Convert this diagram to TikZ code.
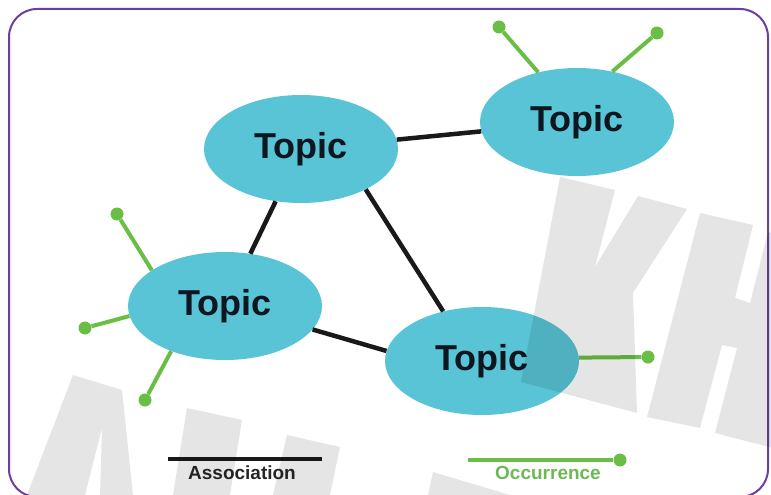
\documentclass[tikz,border=0pt]{standalone}
\usepackage{fontspec}
\setmainfont{Liberation Sans}
\usepackage{xcolor}
\usetikzlibrary{shapes.geometric,arrows.meta}

\definecolor{topicblue}{RGB}{88,196,214}
\definecolor{topictext}{RGB}{14,22,32}
\definecolor{occgreen}{RGB}{106,189,69}
\definecolor{occtext}{RGB}{110,184,84}
\definecolor{framepurple}{RGB}{107,63,160}

\begin{document}
\begin{tikzpicture}[
    x=1pt, y=-1pt,
    topic/.style={
        ellipse,
        fill=topicblue,
        inner sep=0pt,
        minimum width=194pt,
        minimum height=108pt,
        font=\fontsize{36}{40}\selectfont\bfseries,
        text=topictext
    },
    assoc/.style={draw=black!90, line width=4.5pt},
    occ/.style={draw=occgreen, line width=4pt},
    occdot/.style={circle, fill=occgreen, inner sep=0pt, minimum size=13pt},
    legend/.style={font=\fontsize{19}{22}\selectfont\bfseries},
    wmark/.style={fill=black, fill opacity=0.1}
]

\useasboundingbox (0,0) rectangle (771,495);
\clip (0,0) rectangle (771,495);

% Frame
\draw[draw=framepurple, line width=2pt, rounded corners=28pt] (9,9) rectangle (768,497);

% Topics
\node[topic] (t1) at (301,149) {Topic};
\node[topic] (t2) at (577,122) {Topic};
\node[topic] (t3) at (225,306) {Topic};
\node[topic] (t4) at (482,361) {Topic};

% Occurrence end points
\node[occdot] (o1) at (499,27) {};
\node[occdot] (o2) at (657,33) {};
\node[occdot] (o3) at (117,214) {};
\node[occdot] (o4) at (85,328) {};
\node[occdot] (o5) at (145,400) {};
\node[occdot] (o6) at (648,357) {};

% Associations
\draw[assoc] (t1) -- (t2);
\draw[assoc] (t1) -- (t3);
\draw[assoc] (t1.-32) -- (t4.128);
\draw[assoc] (t3.-15) -- (t4.174);

% Occurrences
\draw[occ] (t2.128) -- (o1);
\draw[occ] (t2.55) -- (o2);
\draw[occ] (t3.154) -- (o3);
\draw[occ] (t3.186) -- (o4);
\draw[occ] (t3.220) -- (o5);
\draw[occ] (t4.2) -- (o6);

% Legend
\coordinate (a1) at (168,459);
\coordinate (a2) at (322,459);
\draw[assoc] (a1) -- (a2);
\node[legend, text=black!85] (alabel) at (242,473) {Association};

\coordinate (b1) at (468,460);
\node[occdot] (b2) at (620,460) {};
\draw[occ] (b1) -- (b2);
\node[legend, text=occtext] (blabel) at (548,473) {Occurrence};

% Watermark letters
\fill[wmark] (560,177) -- (615,190) -- (595,267) -- (638,196) -- (687,209)
    -- (633,293) -- (637,413) -- (521,382) -- cycle;
\fill[wmark] (700,213) -- (753,225) -- (735,298) -- (750,303) -- (768,232)
    -- (800,240) -- (800,455) -- (715,433) -- (737,348) -- (722,345)
    -- (700,428) -- (647,417) -- cycle;
\fill[wmark] (73,375) -- (122,390) -- (133,495) -- (100,495) -- (102,428)
    -- (85,495) -- (27,495) -- cycle;
\fill[wmark] (187,408) -- (242,420) -- (230,495) -- (173,495) -- cycle;
\fill[wmark] (287,435) -- (340,447) -- (330,495) -- (273,495) -- cycle;
\fill[wmark] (433,472) -- (510,495) -- (428,495) -- cycle;

\end{tikzpicture}
\end{document}
